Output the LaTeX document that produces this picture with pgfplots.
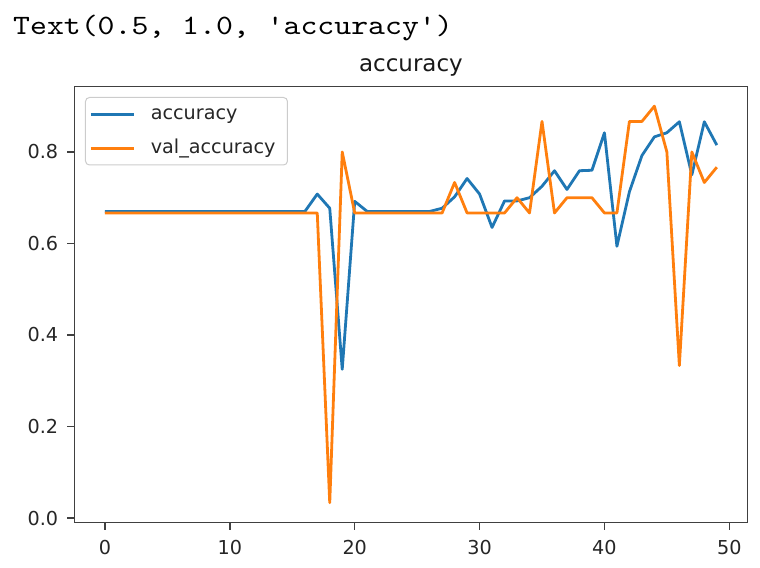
\documentclass[border=0pt]{standalone}
\usepackage{fontspec}
\setmainfont{DejaVu Sans}
\newfontfamily\cour{lmmono10-regular.otf}[FakeStretch=1.15]
\usepackage{pgfplots}
\pgfplotsset{compat=1.18}
\definecolor{mplblue}{HTML}{1F77B4}
\definecolor{mplorange}{HTML}{FF7F0E}
\begin{document}
\begin{tikzpicture}
\path[use as bounding box] (-74.4bp,-45.4bp) rectangle (685.6bp,522.6bp);
\begin{axis}[
  scale only axis, width=673bp, height=436.2bp,
  xmin=-2.45, xmax=51.45, ymin=-0.01, ymax=0.9433,
  axis line style={black!75, line width=1.5bp},
  tick style={black!75, line width=1.5bp},
  tick align=outside, major tick length=7bp, tick pos=left,
  xtick={0,10,20,30,40,50}, ytick={0,0.2,0.4,0.6,0.8},
  /pgf/number format/assume math mode=true,
  ticklabel style={font=\fontsize{19.2bp}{23bp}\selectfont, text=black!85, inner sep=0pt},
  xticklabel style={yshift=-10bp},
  yticklabel style={xshift=-9bp, /pgf/number format/fixed, /pgf/number format/fixed zerofill, /pgf/number format/precision=1},
  scaled y ticks=false,
  title={accuracy},
  title style={font=\fontsize{23bp}{27bp}\selectfont, text=black!90, at={(axis description cs:0.5,1)}, anchor=base, yshift=9bp, inner sep=0pt},
  legend style={at={(axis description cs:0,1)}, anchor=north west, xshift=10.6bp, yshift=-10.6bp,
    draw=black!20, line width=1bp, rounded corners=4bp, fill=white, fill opacity=0.8, text opacity=1,
    inner xsep=4bp, inner ysep=7bp, font=\fontsize{19.2bp}{23bp}\selectfont, text=black!85,
    row sep=14.5bp, nodes={inner sep=0pt, text height=15bp, text depth=4.5bp},
    /tikz/every odd column/.append style={column sep=15.5bp}},
  legend cell align=left,
  legend image code/.code={\draw[#1] (0bp,0bp) -- (43bp,0bp);},
]
\addplot[mplblue, line width=2.8bp, line join=round] coordinates {
(0,0.6696) (1,0.6696) (2,0.6696) (3,0.6696) (4,0.6696) (5,0.6696) (6,0.6696) (7,0.6696)
(8,0.6696) (9,0.6696) (10,0.6696) (11,0.6696) (12,0.6696) (13,0.6696) (14,0.6696) (15,0.6696)
(16,0.6696) (17,0.708) (18,0.677) (19,0.325) (20,0.692) (21,0.670) (22,0.670) (23,0.670)
(24,0.670) (25,0.670) (26,0.670) (27,0.677) (28,0.702) (29,0.742) (30,0.708) (31,0.635)
(32,0.693) (33,0.693) (34,0.700) (35,0.725) (36,0.759) (37,0.718) (38,0.759) (39,0.760)
(40,0.842) (41,0.594) (42,0.713) (43,0.792) (44,0.833) (45,0.842) (46,0.866) (47,0.750)
(48,0.866) (49,0.815)
};
\addlegendentry{accuracy}
\addplot[mplorange, line width=2.8bp, line join=round] coordinates {
(0,0.6667) (1,0.6667) (2,0.6667) (3,0.6667) (4,0.6667) (5,0.6667) (6,0.6667) (7,0.6667)
(8,0.6667) (9,0.6667) (10,0.6667) (11,0.6667) (12,0.6667) (13,0.6667) (14,0.6667) (15,0.6667)
(16,0.6667) (17,0.6667) (18,0.0333) (19,0.8) (20,0.6667) (21,0.6667) (22,0.6667) (23,0.6667)
(24,0.6667) (25,0.6667) (26,0.6667) (27,0.6667) (28,0.7333) (29,0.6667) (30,0.6667) (31,0.6667)
(32,0.6667) (33,0.7) (34,0.6667) (35,0.8667) (36,0.6667) (37,0.7) (38,0.7) (39,0.7)
(40,0.6667) (41,0.6667) (42,0.8667) (43,0.8667) (44,0.9) (45,0.8) (46,0.3333) (47,0.8)
(48,0.7333) (49,0.7667)
};
\addlegendentry{val\_accuracy\hspace*{8bp}}
\end{axis}
\node[anchor=base west, inner sep=0pt, font={\cour\fontsize{28bp}{32bp}\selectfont}] at (-61.4bp,488.3bp) {Text(0.5, 1.0, 'accuracy')};
\end{tikzpicture}
\end{document}
